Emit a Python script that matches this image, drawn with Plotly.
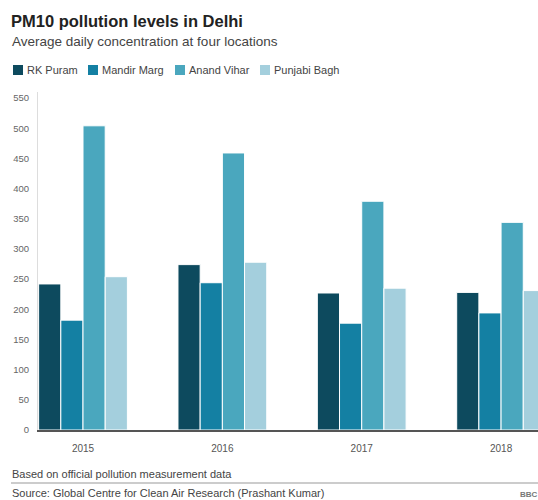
import plotly.graph_objects as go

years = ["2015", "2016", "2017", "2018"]
series_names = ["RK Puram", "Mandir Marg", "Anand Vihar", "Punjabi Bagh"]
rk_puram = [242, 274, 227, 228]
mandir_marg = [182, 244, 177, 194]
anand_vihar = [504, 459, 379, 344]
punjabi_bagh = [254, 278, 235, 231]
colors = ["#0d4a5e", "#1480a3", "#4aa7be", "#a4cfdd"]
y_ticks = list(range(0, 551, 50))

values = [rk_puram, mandir_marg, anand_vihar, punjabi_bagh]

FONT = "Liberation Sans, Arial, sans-serif"
W, H = 538, 500
ML, MR, MT, MB = 38, 0, 92, 70
PW, PH = W - ML - MR, H - MT - MB

def px(x):
    return (x - ML) / PW

def py(y):
    return (H - MB - y) / PH

fig = go.Figure()
for name, vals, col in zip(series_names, values, colors):
    fig.add_trace(go.Bar(
        x=years, y=vals, name=name, marker_color=col,
        marker_line_color="white", marker_line_width=1,
        showlegend=False,
    ))

annotations = [
    dict(text="Average daily concentration at four locations", x=px(10), y=py(42),
         xref="paper", yref="paper", xanchor="left", yanchor="middle", showarrow=False,
         font=dict(family=FONT, size=13.5, color="#444444")),
    dict(text="Based on official pollution measurement data", x=px(10), y=py(474),
         xref="paper", yref="paper", xanchor="left", yanchor="middle", showarrow=False,
         font=dict(family=FONT, size=11, color="#444444")),
    dict(text="Source: Global Centre for Clean Air Research (Prashant Kumar)", x=px(10), y=py(493),
         xref="paper", yref="paper", xanchor="left", yanchor="middle", showarrow=False,
         font=dict(family=FONT, size=11, color="#444444")),
    dict(text="<b>BBC</b>", x=px(518), y=py(494),
         xref="paper", yref="paper", xanchor="left", yanchor="middle", showarrow=False,
         font=dict(family=FONT, size=8, color="#777")),
]
shapes = [
    dict(type="line", xref="paper", yref="paper", x0=px(11), x1=1.0,
         y0=py(483), y1=py(483), line=dict(color="#cccccc", width=2)),
]

legend_x = [13, 88, 175, 260]
for name, col, lx in zip(series_names, colors, legend_x):
    shapes.append(dict(type="rect", xref="paper", yref="paper",
                       x0=px(lx), x1=px(lx + 10), y0=py(65), y1=py(75),
                       fillcolor=col, line=dict(width=0)))
    annotations.append(dict(text=name, x=px(lx + 12), y=py(70), xref="paper", yref="paper",
                            xanchor="left", yanchor="middle", showarrow=False,
                            font=dict(family=FONT, size=11, color="#444444")))

fig.update_layout(
    width=W, height=H,
    margin=dict(l=ML, r=MR, t=MT, b=MB),
    paper_bgcolor="white", plot_bgcolor="white",
    barmode="group", bargap=0.363, bargroupgap=0,
    title=dict(text="<b>PM10 pollution levels in Delhi</b>", x=11 / W, xanchor="left",
               xref="container", yref="container", y=1 - 21.5 / H, yanchor="middle",
               font=dict(family=FONT, size=16.5, color="#222222")),
    xaxis=dict(type="category", range=[-0.323, 3.265], showgrid=False, zeroline=False,
               showline=True, linecolor="#555555", linewidth=2, ticks="",
               ticklabelstandoff=8,
               tickfont=dict(family=FONT, size=10, color="#555555")),
    yaxis=dict(range=[0, 560], tickvals=y_ticks, ticktext=[str(v) for v in y_ticks],
               showgrid=False, zeroline=False, showline=True, linecolor="#dddddd",
               linewidth=1, ticks="", ticklabelstandoff=6,
               tickfont=dict(family=FONT, size=9.5, color="#666666")),
    annotations=annotations,
    shapes=shapes,
)

fig.write_html("out.html")
